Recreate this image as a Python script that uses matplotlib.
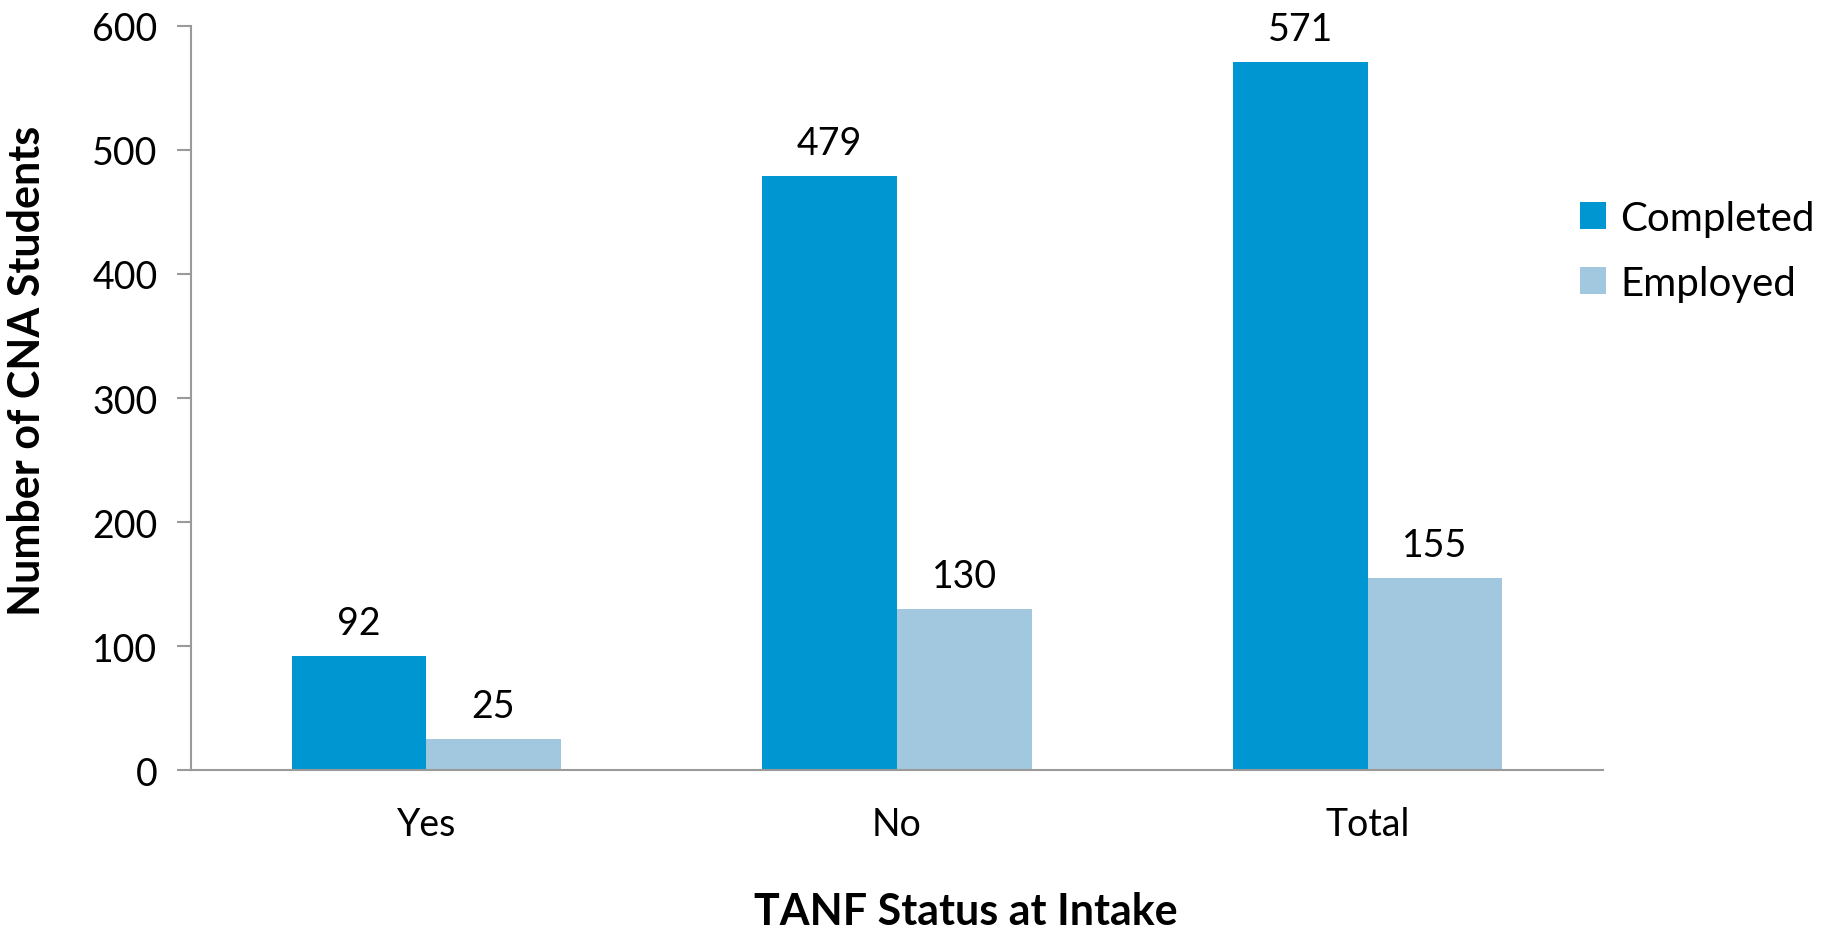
import matplotlib
matplotlib.use("Agg")
import matplotlib.pyplot as plt
import numpy as np

categories = ["Yes", "No", "Total"]
completed = [92, 479, 571]
employed = [25, 130, 155]
series_names = ["Completed", "Employed"]
y_ticks = [0, 100, 200, 300, 400, 500, 600]

plt.rcParams["font.family"] = ["Lato", "DejaVu Sans"]

fig = plt.figure(figsize=(18.35, 9.29), dpi=100)
ax = fig.add_axes([0.104, 0.170, 0.7696, 0.801])

x = np.arange(len(categories))
w = 0.286
c_completed = "#0096D2"
c_employed = "#A2C8DF"

b1 = ax.bar(x - w / 2, completed, w, color=c_completed, label=series_names[0])
b2 = ax.bar(x + w / 2, employed, w, color=c_employed, label=series_names[1])

for bars, vals in ((b1, completed), (b2, employed)):
    for rect, v in zip(bars, vals):
        ax.annotate(f"{v}", (rect.get_x() + rect.get_width() / 2, v),
                    xytext=(0, 11), textcoords="offset points",
                    ha="center", va="bottom", fontsize=27)

ax.set_xlim(-0.5, 2.5)
ax.set_ylim(0, 600)
ax.set_yticks(y_ticks)
ax.set_xticks(x)
ax.set_xticklabels(categories)

for s in ("top", "right"):
    ax.spines[s].set_visible(False)
for s in ("left", "bottom"):
    ax.spines[s].set_color("#9a9a9a")
    ax.spines[s].set_linewidth(1.5)

ax.tick_params(axis="y", length=10, width=1.5, color="#9a9a9a", labelsize=27, pad=14)
ax.tick_params(axis="x", length=0, labelsize=27, pad=26)

ax.set_ylabel("Number of CNA Students", fontsize=31, fontweight="bold")
ax.yaxis.set_label_coords(-0.102, 0.538)
ax.set_xlabel("TANF Status at Intake", fontsize=31, fontweight="bold")
ax.xaxis.set_label_coords(0.549, -0.162)

ax.legend(loc="upper left", bbox_to_anchor=(0.958, 0.815), frameon=False,
          fontsize=29, handlelength=0.65, handleheight=0.65,
          handletextpad=0.35, labelspacing=0.7)

fig.savefig("out.png", dpi=100)
